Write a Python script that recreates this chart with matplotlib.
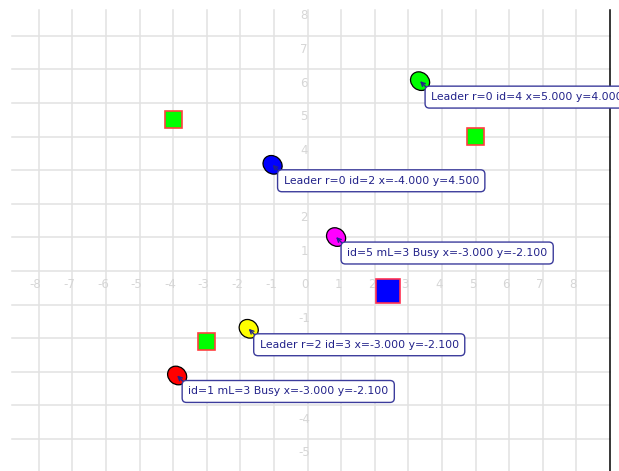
import matplotlib
matplotlib.use("Agg")
import matplotlib.pyplot as plt
from matplotlib.patches import Rectangle, Ellipse

# ---- data ----
grid_x = list(range(-8, 9))
grid_y = list(range(-5, 8))
xtick_labels = [str(v) for v in range(-8, 9)]
ytick_values = [v for v in range(-5, 9) if v != 0]

target_x = [-4.0, 5.0, -3.0]
target_y = [4.5, 4.0, -2.1]

base_x = [2.39]
base_y = [-0.60]

robot_x = [3.35, -1.04, 0.85, -1.75, -3.88]
robot_y = [5.65, 3.16, 1.01, -1.72, -3.11]
robot_colors = ["#00ff00", "#0000ff", "#ff00ff", "#ffff00", "#ff0000"]
robot_labels = [
    "Leader r=0 id=4 x=5.000 y=4.000",
    "Leader r=0 id=2 x=-4.000 y=4.500",
    "id=5 mL=3 Busy x=-3.000 y=-2.100",
    "Leader r=2 id=3 x=-3.000 y=-2.100",
    "id=1 mL=3 Busy x=-3.000 y=-2.100",
]

# ---- figure ----
fig = plt.figure(figsize=(6.19, 4.71), dpi=100)
ax = fig.add_axes([0, 0, 1, 1])
ax.set_xlim(-9.152, 9.27)
ax.set_ylim(-5.952, 8.065)
ax.axis("off")

grid_col = "#e2e2e2"
for gx in grid_x:
    ax.plot([gx, gx], [-6.2, 7.77], color=grid_col, lw=1.1, zorder=1)
for gy in grid_y:
    ax.plot([-8.79, 9.0], [gy, gy], color=grid_col, lw=1.1, zorder=1)
ax.plot([9.0, 9.0], [-6.2, 7.77], color="black", lw=1.1, zorder=2)

lab_col = "#d6d6d6"
for v, s in zip(range(-8, 9), xtick_labels):
    ax.text(v - 0.09, -0.41, s, color=lab_col, fontsize=8.5,
            ha="center", va="center", zorder=2)
for v in ytick_values:
    ax.text(-0.1, v - 0.41, str(v), color=lab_col, fontsize=8.5,
            ha="center", va="center", zorder=2)

# targets
for tx, ty in zip(target_x, target_y):
    s = 0.5
    ax.add_patch(Rectangle((tx - s / 2, ty - s / 2), s, s, facecolor="#00ff00",
                           edgecolor="#ff4040", lw=1.2, zorder=3))
for bx, by in zip(base_x, base_y):
    s = 0.72
    ax.add_patch(Rectangle((bx - s / 2, by - s / 2), s, s, facecolor="#0000ff",
                           edgecolor="#ff3050", lw=1.2, zorder=3))

# robots
fs = 7.8
pad = 0.55
pad_px = pad * fs * 100 / 72
for rx, ry, c, lab in zip(robot_x, robot_y, robot_colors, robot_labels):
    ax.add_patch(Ellipse((rx, ry), 0.6, 0.52, angle=-40, facecolor=c,
                         edgecolor="black", lw=0.9, zorder=4))
    ax.annotate(lab, xy=(rx, ry), xytext=(5 + pad_px, -5 - pad_px),
                textcoords="offset pixels", ha="left", va="top",
                fontsize=fs, color="#22228a", zorder=5,
                annotation_clip=False,
                bbox=dict(boxstyle=f"round,pad={pad},rounding_size=0.4",
                          facecolor="white", edgecolor="#3c3c9c", lw=1.0),
                arrowprops=dict(arrowstyle="->", color="#22228a", lw=1.0,
                                relpos=(0, 1), shrinkA=0, shrinkB=0,
                                mutation_scale=7))

fig.savefig("out.png", dpi=100)
